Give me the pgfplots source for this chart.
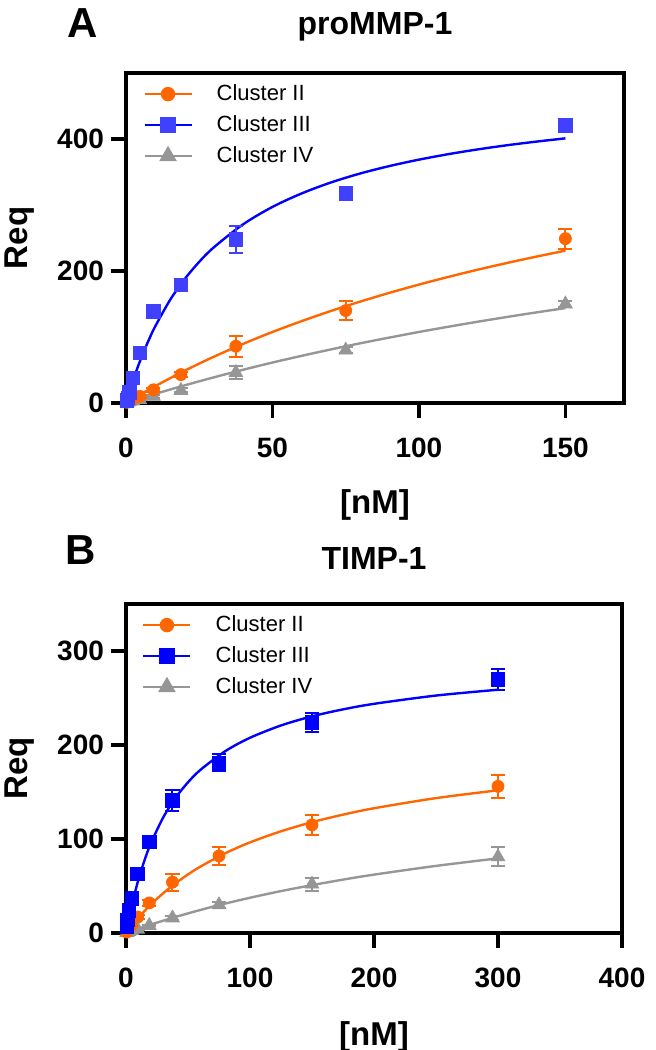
\documentclass[border=0pt]{standalone}
\usepackage{fontspec}
\setmainfont{Liberation Sans}
\usepackage{pgfplots}
\pgfplotsset{compat=1.18}

\definecolor{orgC}{RGB}{255,102,0}
\definecolor{bluC}{RGB}{0,0,255}
\definecolor{bluA}{RGB}{64,64,255}
\definecolor{gryC}{RGB}{150,150,150}

\pgfplotsset{
  prism/.style={
    scale only axis, clip=false,
    axis line style={line width=2pt},
    tick align=outside, xtick pos=left, ytick pos=left,
    major tick length=7.5pt,
    every tick/.style={black, line width=1.8pt},
    minor tick num=0,
    ticklabel style={font=\bfseries\fontsize{14}{14}\selectfont},
    xticklabel style={yshift=-6.5pt},
    label style={font=\bfseries\fontsize{16.5}{16.5}\selectfont},
    title style={font=\bfseries\fontsize{16}{16}\selectfont, anchor=base},
    legend style={draw=none, fill=none, font=\fontsize{11}{11}\selectfont,
      row sep=2pt, inner sep=0pt, anchor=north west, legend cell align=left,
      /tikz/every odd column/.style={column sep=10pt}},
    legend image code/.code={\draw[mark repeat=2,mark phase=2,#1]
      plot coordinates {(0pt,0pt) (11.75pt,0pt) (23.5pt,0pt)};},
  },
  fitline/.style={line width=1.2pt, no marks, smooth, forget plot},
  pts/.style={only marks, forget plot,
    error bars/y dir=both, error bars/y explicit,
    error bars/error bar style={line width=1pt},
    error bars/error mark options={rotate=90, line width=1pt, mark size=3.5pt}},
  mII/.style={mark=*, mark size=3pt, mark options={solid, fill=orgC, draw=orgC}},
  mIII/.style={mark=square*, mark size=3.4pt, mark options={solid, fill=#1, draw=#1}},
  mIV/.style={mark=triangle*, mark size=3.9pt, mark options={solid, fill=gryC, draw=gryC}},
}

\begin{document}
\begin{tikzpicture}
\useasboundingbox (0,0) rectangle (327.5pt,525pt);

% ---------- A: proMMP-1 ----------
\begin{axis}[prism,
  at={(63pt,323.5pt)}, anchor=south west,
  width=249pt, height=165pt,
  xmin=0, xmax=170, ymin=0, ymax=500,
  xtick={0,50,100,150}, xticklabels={0,50,100,150},
  ytick={0,200,400}, yticklabels={0,200,400},
  xlabel={[nM]}, ylabel={Req},
  xlabel style={at={(axis description cs:0.5,-0.309)}, anchor=center},
  ylabel style={at={(axis description cs:-0.214,0.5)}, anchor=center},
  title={proMMP-1},
  title style={at={(axis description cs:0.5,1.079)}},
  legend style={at={(axis description cs:0.034,0.978)}},
]
\addlegendimage{orgC, line width=1.2pt, mII}
\addlegendentry{Cluster II}
\addlegendimage{bluC, line width=1.2pt, mIII=bluA}
\addlegendentry{Cluster III}
\addlegendimage{gryC, line width=1.2pt, mIV}
\addlegendentry{Cluster IV}

% fitted curves
\addplot[fitline, orgC] coordinates {
 (0,0) (2,5.3) (5,13.1) (10,25.6) (20,48.9) (30,70.1) (40,89.6) (50,107.6)
 (60,124.1) (70,139.5) (80,153.7) (90,167.0) (100,179.4) (110,191.0)
 (120,201.9) (130,212.1) (140,221.7) (150,230.8)};
\addplot[fitline, bluC] coordinates {
 (0,0) (1,14.8) (2,28.8) (4,54.3) (6,77.1) (8,97.7) (10,116.3) (15,155.8)
 (20,187.6) (25,213.9) (30,235.9) (40,270.8) (50,297.1) (60,317.6)
 (70,334.2) (80,347.8) (90,359.1) (100,368.7) (110,377.0) (120,384.2)
 (130,390.5) (140,396.0) (150,401.0)};
\addplot[fitline, gryC] coordinates {
 (0,0) (5,7.0) (10,13.8) (20,26.7) (30,38.9) (40,50.4) (50,61.3) (60,71.5)
 (70,81.2) (80,90.5) (90,99.2) (100,107.6) (110,115.5) (120,123.1)
 (130,130.3) (140,137.2) (150,143.8)};

% data points with error bars
\addplot[pts, gryC, mIV] table[x=x, y=y, y error=e] {
x y e
0.29 0.5 0
0.59 1 0
1.17 2 0
2.34 3 0
4.69 5 1
9.375 10 2
18.75 19 3
37.5 46 10
75 80 5
150 150 5
};
\addplot[pts, orgC, mII] table[x=x, y=y, y error=e] {
x y e
0.29 1 0
0.59 2 0
1.17 4 1
2.34 6 1
4.69 10 2
9.375 20 3
18.75 43 4
37.5 86 16
75 140 14
150 249 15
};
\addplot[pts, bluA, mIII=bluA] table[x=x, y=y, y error=e] {
x y e
0.29 4 1
0.59 8 2
1.17 16 3
2.34 38 4
4.69 76 4
9.375 139 5
18.75 179 6
37.5 248 20
75 318 10
150 421 8
};

\node[font=\bfseries\fontsize{21}{21}\selectfont] at (axis description cs:-0.088,1.150) {A};
\end{axis}

% ---------- B: TIMP-1 ----------
\begin{axis}[prism,
  at={(63pt,58.5pt)}, anchor=south west,
  width=248pt, height=164.5pt,
  xmin=0, xmax=400, ymin=0, ymax=350,
  xtick={0,100,200,300,400}, xticklabels={0,100,200,300,400},
  ytick={0,100,200,300}, yticklabels={0,100,200,300},
  xlabel={[nM]}, ylabel={Req},
  xlabel style={at={(axis description cs:0.5,-0.316)}, anchor=center},
  ylabel style={at={(axis description cs:-0.214,0.5)}, anchor=center},
  title={TIMP-1},
  title style={at={(axis description cs:0.5,1.067)}},
  legend style={at={(axis description cs:0.032,0.978)}},
]
\addlegendimage{orgC, line width=1.2pt, mII}
\addlegendentry{Cluster II}
\addlegendimage{bluC, line width=1.2pt, mIII=bluC}
\addlegendentry{Cluster III}
\addlegendimage{gryC, line width=1.2pt, mIV}
\addlegendentry{Cluster IV}

\addplot[fitline, orgC] coordinates {
 (0,0) (2,3.5) (5,8.5) (10,16.3) (20,30.2) (30,42.3) (40,52.9) (50,62.3)
 (60,70.6) (80,84.8) (100,96.4) (125,108.2) (150,117.9) (175,125.9)
 (200,132.7) (250,143.5) (300,151.8)};
\addplot[fitline, bluC] coordinates {
 (0,0) (2,13.4) (5,31.4) (10,56.7) (15,77.6) (20,95.2) (30,122.9) (40,143.9)
 (50,160.3) (60,173.5) (80,193.4) (100,207.7) (125,220.8) (150,230.5)
 (175,237.9) (200,243.8) (250,252.6) (300,258.8)};
\addplot[fitline, gryC] coordinates {
 (0,0) (10,4.6) (20,9.0) (40,17.1) (60,24.5) (80,31.3) (100,37.5)
 (125,44.6) (150,50.9) (175,56.8) (200,62.1) (250,71.4) (300,79.4)};

\addplot[pts, gryC, mIV] table[x=x, y=y, y error=e] {
x y e
0.59 0.5 0
1.17 1 0
2.34 1.5 0
4.69 2.5 0
9.375 4 1
18.75 8 1
37.5 16 2
75 30 3
150 52 7
300 81 10
};
\addplot[pts, orgC, mII] table[x=x, y=y, y error=e] {
x y e
0.59 1 0
1.17 2.3 0
2.34 4.5 1
4.69 9 1
9.375 17 2
18.75 32 3
37.5 54 9
75 82 10
150 115 11
300 156 12
};
\addplot[pts, bluC, mIII=bluC] table[x=x, y=y, y error=e] {
x y e
0.59 7 1
1.17 14 2
2.34 24 2
4.69 37 3
9.375 63 4
18.75 97 5
37.5 141 11
75 181 9
150 224 10
300 270 11
};

\node[font=\bfseries\fontsize{21}{21}\selectfont] at (axis description cs:-0.091,1.164) {B};
\end{axis}
\end{tikzpicture}
\end{document}
